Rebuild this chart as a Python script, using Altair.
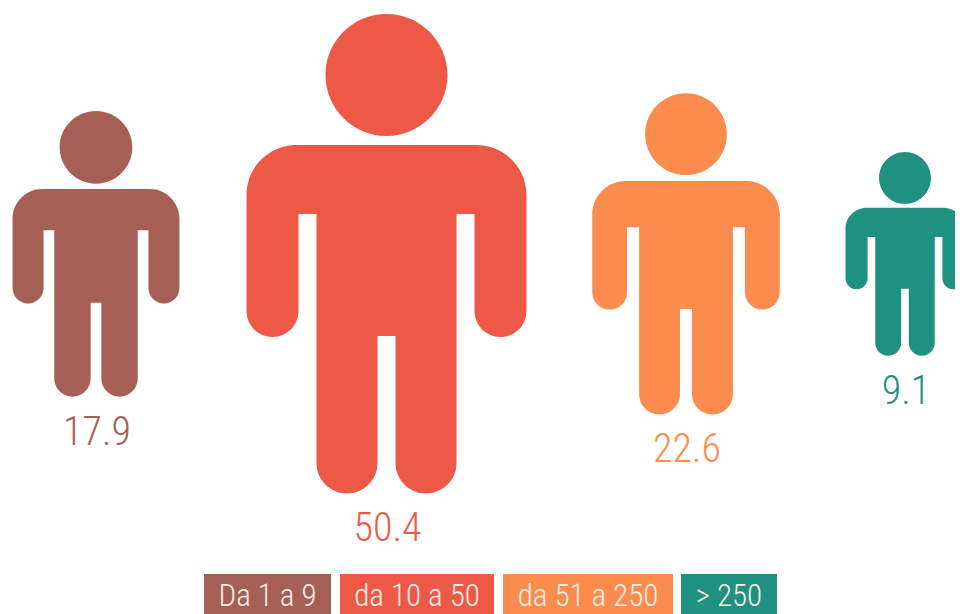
import math
import altair as alt
import pandas as pd

categories = ["Da 1 a 9", "da 10 a 50", "da 51 a 250", "> 250"]
values = [17.9, 50.4, 22.6, 9.1]
value_labels = ["17.9", "50.4", "22.6", "9.1"]
order = [0, 1, 2, 3]
colors = ["#A65F55", "#EE5947", "#FB8C4E", "#1F9180"]

df = pd.DataFrame({"cat": categories, "value": values, "label": value_labels, "order": order})


def arc(cx, cy, r, a0, a1):
    """Cubic segments for a clockwise circular arc, in glyph units (240 = half the icon height)."""
    out = []
    n = int(round((a1 - a0) / 90))
    k = 0.5523 * r
    for i in range(n):
        s = math.radians(a0 + 90 * i)
        e = math.radians(a0 + 90 * (i + 1))
        x0, y0 = cx + r * math.cos(s), cy + r * math.sin(s)
        x1, y1 = cx + r * math.cos(e), cy + r * math.sin(e)
        c1 = (x0 - k * math.sin(s), y0 + k * math.cos(s))
        c2 = (x1 + k * math.sin(e), y1 - k * math.cos(e))
        pts = [c1, c2, (x1, y1)]
        out.append("C" + " ".join(f"{p[0] / 240:.4f},{p[1] / 240:.4f}" for p in pts))
    return " ".join(out)


def pt(cmd, x, y):
    return f"{cmd}{x / 240:.4f},{y / 240:.4f}"


PERSON = " ".join([
    pt("M", -90, -109), pt("L", 90, -109), arc(90, -59, 50, -90, 0),
    pt("L", 140, 57), arc(114, 57, 26, 0, 180),
    pt("L", 88, -40), pt("L", 70, -40), pt("L", 70, 209), arc(39.5, 209, 30.5, 0, 180),
    pt("L", 9, 82), pt("L", -9, 82), pt("L", -9, 209), arc(-39.5, 209, 30.5, 0, 180),
    pt("L", -70, -40), pt("L", -88, -40), pt("L", -88, 57), arc(-114, 57, 26, 0, 180),
    pt("L", -140, -59), arc(-90, -59, 50, 180, 270), "Z",
    pt("M", 61, -179), arc(0, -179, 61, 0, 360), "Z",
])

FONT = "Roboto Condensed"
color = alt.Color("cat:N", scale=alt.Scale(domain=categories, range=colors), legend=None)
icon_x = alt.X("order:Q", axis=None, scale=alt.Scale(domain=order, range=[88, 378.5, 678, 897]))
legend_x = alt.X("order:Q", axis=None, scale=alt.Scale(domain=order, range=[259.5, 409, 580, 721], padding=0))

icons = alt.Chart(df).mark_point(shape=PERSON, filled=True, opacity=1, strokeWidth=0).encode(
    x=icon_x,
    y=alt.value(246),
    size=alt.Size("value:Q", legend=None, scale=alt.Scale(domain=[0, 50.4], range=[0, 230400])),
    color=color,
)
labels = alt.Chart(df).mark_text(font=FONT, fontSize=40, fontWeight=300, baseline="middle", dx=1).encode(
    x=icon_x,
    y=alt.Y("value:Q", axis=None, scale=alt.Scale(type="sqrt", domain=[0, 50.4], range=[282.7, 521])),
    text="label:N",
    color=color,
)
bars = alt.Chart(df).mark_bar(orient="vertical").encode(
    x=legend_x,
    y=alt.value(566),
    y2=alt.value(606),
    size=alt.Size("order:Q", legend=None, scale=alt.Scale(domain=order, range=[127, 154, 170, 96])),
    color=color,
)
bar_text = alt.Chart(df).mark_text(font=FONT, fontSize=31, fontWeight=300, color="#FBEFE8", baseline="middle").encode(
    x=legend_x,
    y=alt.value(589),
    text="cat:N",
)

chart = (
    alt.layer(icons, labels, bars, bar_text)
    .resolve_scale(x="independent", y="independent", size="independent")
    .properties(width=947, height=606, padding=0, background="white", autosize=alt.AutoSizeParams(type="none"))
    .configure_view(strokeWidth=0)
)
chart.save("out.html", embed_options={"renderer": "svg", "actions": False})
